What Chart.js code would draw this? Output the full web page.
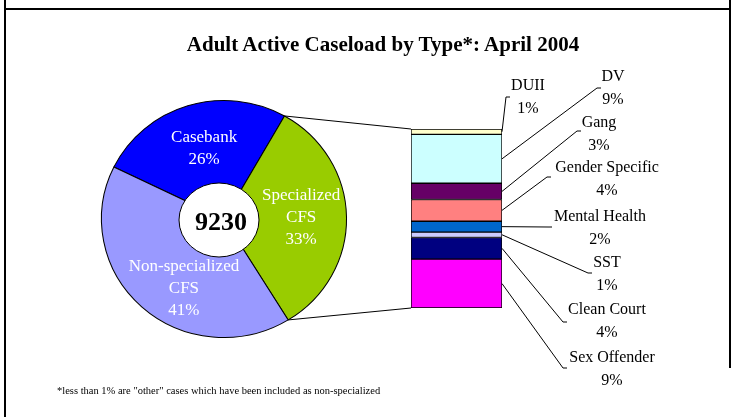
<!DOCTYPE html>
<html>
<head>
<meta charset="utf-8">
<script src="https://cdn.jsdelivr.net/npm/chart.js@4"></script>
<style>
  body { margin: 0; background: #fff; }
  #wrap { position: relative; width: 733px; height: 417px; overflow: hidden; background: #fff;
          font-family: 'Liberation Serif', 'Times New Roman', serif; }
  #wrap canvas { position: absolute; left: 0; top: 0; }
  .rule { position: absolute; background: #000; }
  #title { position: absolute; left: 0; width: 766px; top: 32px; text-align: center;
           font-weight: bold; font-size: 21px; white-space: nowrap; }
  #note { position: absolute; left: 57px; top: 385px; font-size: 10.5px; white-space: nowrap; }
</style>
</head>
<body>
<div id="wrap">
  <div class="rule" style="left:4px;top:0;width:2px;height:417px"></div>
  <div class="rule" style="left:729px;top:0;width:2px;height:368px"></div>
  <div class="rule" style="left:4px;top:8px;width:727px;height:2px"></div>
  <canvas id="pieChart" width="733" height="417"></canvas>
  <canvas id="typeChart" width="733" height="417"></canvas>
  <div id="title">Adult Active Caseload by Type*: April 2004</div>
  <div id="note">*less than 1% are "other" cases which have been included as non-specialized</div>
</div>
<script>
// caseload split (percent of total)
const caseTypes = [['Casebank'], ['Specialized', 'CFS'], ['Non-specialized', 'CFS']];
const caseShares = [26, 33, 41];
const caseColors = ['#0000ff', '#99cc00', '#9999ff'];
const totalCases = 9230;

// breakdown of specialized CFS (percent of total), top to bottom
const specTypes = ['DUII', 'DV', 'Gang', 'Gender Specific', 'Mental Health', 'SST', 'Clean Court', 'Sex Offender'];
const specShares = [1, 9, 3, 4, 2, 1, 4, 9];
const specColors = ['#ffffcc', '#ccffff', '#660066', '#ff8080', '#0066cc', '#ccccff', '#000080', '#ff00ff'];

// layout tweaks
const stretchX = 1.034;                       // the pie is drawn a bit wider than tall
const pieLabelPlace = [[0.62, 2], [0.63, 0], [0.67, -13]];   // radius fraction, angle nudge (deg)
// callout text: [elbow x, elbow y, text centre x, first line y]
const callouts = [
  [506, 97, 528, 86], [597, 88, 613, 77], [577, 131, 599, 123], [547, 177, 607, 168],
  [548, 227, 600, 217], [588, 273, 607, 263], [563, 322, 607, 310], [563, 368, 612, 358],
];
const serif = "'Liberation Serif', 'Times New Roman', serif";

const pieDecor = {
  id: 'pieDecor',
  beforeDatasetsDraw(chart) {
    const arc = chart.getDatasetMeta(0).data[0];
    const ctx = chart.ctx;
    ctx.save();
    ctx.translate(arc.x, arc.y);
    ctx.scale(stretchX, 1);
    ctx.translate(-arc.x, -arc.y);
  },
  afterDatasetsDraw(chart) {
    chart.ctx.restore();
  },
  afterDraw(chart) {
    const ctx = chart.ctx;
    const arcs = chart.getDatasetMeta(0).data;
    const cx = arcs[0].x, cy = arcs[0].y, r = arcs[0].outerRadius;
    ctx.save();
    ctx.fillStyle = '#fff';
    ctx.textAlign = 'center';
    ctx.textBaseline = 'middle';
    ctx.font = '17px ' + serif;
    arcs.forEach((a, i) => {
      const mid = (a.startAngle + a.endAngle) / 2 + pieLabelPlace[i][1] * Math.PI / 180;
      const rr = r * pieLabelPlace[i][0];
      const x = cx + Math.cos(mid) * rr * stretchX;
      const y = cy + Math.sin(mid) * rr;
      const lines = caseTypes[i].concat([caseShares[i] + '%']);
      lines.forEach((t, k) => ctx.fillText(t, x, y + (k - (lines.length - 1) / 2) * 22));
    });
    // white centre with the total
    ctx.beginPath();
    ctx.ellipse(cx - 5, cy + 1, 40, 37, 0, 0, Math.PI * 2);
    ctx.fillStyle = '#fff';
    ctx.fill();
    ctx.strokeStyle = '#000';
    ctx.lineWidth = 1;
    ctx.stroke();
    ctx.fillStyle = '#000';
    ctx.font = 'bold 26px ' + serif;
    ctx.fillText(String(totalCases), cx - 3, cy + 4);
    ctx.restore();
  }
};

const pieChart = new Chart(document.getElementById('pieChart'), {
  type: 'pie',
  data: {
    labels: caseTypes.map(l => l.join(' ')),
    datasets: [{
      data: caseShares,
      backgroundColor: caseColors,
      borderColor: '#000',
      borderWidth: 1,
    }],
  },
  options: {
    responsive: false,
    animation: false,
    rotation: -64,
    layout: { padding: { left: 105, right: 390, top: 100, bottom: 79 } },
    plugins: { legend: { display: false }, tooltip: { enabled: false } },
  },
  plugins: [pieDecor],
});

const barDecor = {
  id: 'barDecor',
  afterDraw(chart) {
    const ctx = chart.ctx;
    const n = specTypes.length;
    const seg = i => chart.getDatasetMeta(n - 1 - i).data[0];
    const top = seg(0), bottom = seg(n - 1);
    const left = top.x - top.width / 2, right = top.x + top.width / 2;
    ctx.save();
    ctx.strokeStyle = '#000';
    ctx.lineWidth = 1;
    // lines from the specialized slice to the bar
    const spec = pieChart.getDatasetMeta(0).data[1];
    const edge = a => [spec.x + Math.cos(a) * spec.outerRadius * stretchX, spec.y + Math.sin(a) * spec.outerRadius];
    const p1 = edge(spec.startAngle), p2 = edge(spec.endAngle);
    ctx.beginPath();
    ctx.moveTo(p1[0], p1[1]); ctx.lineTo(left, top.y);
    ctx.moveTo(p2[0], p2[1]); ctx.lineTo(left, bottom.base);
    ctx.stroke();
    // callouts
    ctx.fillStyle = '#000';
    ctx.font = '16px ' + serif;
    ctx.textAlign = 'center';
    ctx.textBaseline = 'middle';
    specTypes.forEach((name, i) => {
      const s = seg(i);
      const [ex, ey, tx, ty] = callouts[i];
      ctx.beginPath();
      ctx.moveTo(right, (s.y + s.base) / 2);
      ctx.lineTo(ex, ey);
      ctx.lineTo(ex + 4, ey);
      ctx.stroke();
      ctx.fillText(name, tx, ty);
      ctx.fillText(specShares[i] + '%', tx, ty + 22.5);
    });
    ctx.restore();
  }
};

new Chart(document.getElementById('typeChart'), {
  type: 'bar',
  data: {
    labels: ['Specialized CFS'],
    datasets: specTypes.map((name, i) => ({
      label: name,
      data: [specShares[i]],
      backgroundColor: specColors[i],
      borderColor: '#000',
      borderWidth: 1,
      borderSkipped: false,
    })).reverse(),
  },
  options: {
    responsive: false,
    animation: false,
    layout: { padding: { left: 411, right: 231, top: 129, bottom: 109 } },
    datasets: { bar: { barPercentage: 1, categoryPercentage: 1 } },
    scales: {
      x: { display: false, stacked: true },
      y: { display: false, stacked: true, min: 0, max: 33 },
    },
    plugins: { legend: { display: false }, tooltip: { enabled: false } },
  },
  plugins: [barDecor],
});
</script>
</body>
</html>
